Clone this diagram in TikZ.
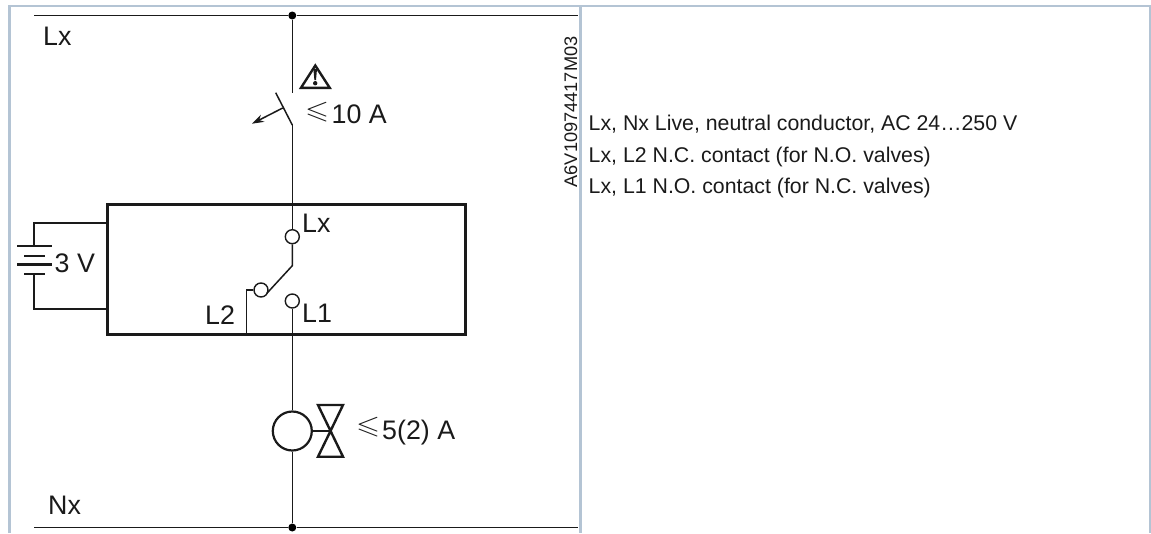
\documentclass[tikz,border=0pt]{standalone}
\usepackage{amssymb}
\usepackage{graphicx}
\usepackage{fontspec}
\setmainfont{Liberation Sans}
\usetikzlibrary{arrows.meta}
\definecolor{frameblue}{HTML}{B4C4D4}
\definecolor{inkc}{HTML}{1A1A1A}
\tikzset{
  frameline/.style={frameblue,line width=2.2pt},
  wire/.style={inkc,line width=1.5pt},
  thickbox/.style={inkc,line width=3pt},
  thickwire/.style={inkc,line width=2.4pt},
  contact/.style={circle,draw=inkc,line width=1.4pt,fill=white,minimum size=14pt,inner sep=0pt},
  junction/.style={circle,fill=black,minimum size=8pt,inner sep=0pt},
  bigtxt/.style={inner sep=0pt,text=inkc,font=\fontsize{26.8}{28}\selectfont,anchor=base west},
  smalltxt/.style={inner sep=0pt,text=inkc,font=\fontsize{21.3}{23}\selectfont,anchor=base west},
  codetxt/.style={inner sep=0pt,text=inkc,font=\fontsize{18.2}{20}\selectfont,anchor=base west},
}
\newcommand{\lessq}{\scalebox{1.15}[0.95]{$\leqslant$}}
\begin{document}
\begin{tikzpicture}[x=1pt,y=-1pt]
\useasboundingbox (0,0) rectangle (1151,533);
% frame
\draw[frameline] (9.5,533) -- (9.5,6) -- (1150,6) -- (1150,533);
\draw[frameline] (580.5,6) -- (580.5,533);
% bus lines
\coordinate (busTL) at (34,15.5);
\coordinate (busTR) at (578,15.5);
\coordinate (busBL) at (34,527.5);
\coordinate (busBR) at (578,527.5);
\node[junction] (jt) at (292.3,15.5) {};
\node[junction] (jb) at (292.3,527.5) {};
\draw[wire] (busTL) -- (jt) -- (busTR);
\draw[wire] (busBL) -- (jb) -- (busBR);
% switch
\coordinate (swTop) at (292.3,92.7);
\coordinate (bladeTop) at (275.7,92.7);
\coordinate (bladeBot) at (292.3,125);
\coordinate (bladeMid) at (282.7,108);
\coordinate (arrEnd) at (252,123.7);
\draw[wire] (jt) -- (swTop);
\draw[wire] (bladeTop) -- (bladeBot);
\draw[wire,-{Stealth[length=12pt,width=8pt]}] (bladeMid) -- (arrEnd);
% warning
\draw[inkc,line width=2.4pt,line join=miter] (315.3,65.5) -- (329.7,87.8) -- (301,87.8) -- cycle;
\fill[inkc] (313.4,69) -- (317,69) -- (316,80) -- (314.4,80) -- cycle;
\fill[inkc] (315.2,83.2) circle (2.2pt);
% box
\coordinate (boxNW) at (107.7,204.7);
\coordinate (boxSE) at (465,334.7);
% contacts
\node[contact] (cLx) at (292.3,236.7) {};
\node[contact] (cL2) at (261,290) {};
\node[contact] (cL1) at (292.3,301) {};
\coordinate (pivot) at (292.3,265.7);
\coordinate (bladeEnd) at (266.7,293.5);
\coordinate (l2corner) at (246.7,290);
\coordinate (l2foot) at (246.7,334.7);
\draw[wire] (bladeBot) -- (cLx);
\draw[wire] (cLx) -- (pivot) -- (bladeEnd);
\draw[wire] (cL2) -- (l2corner) -- (l2foot);
% motor valve
\node[circle,draw=inkc,line width=2.2pt,minimum size=39pt,inner sep=0pt] (motor) at (292.3,431) {};
\draw[wire] (cL1) -- (motor);
\draw[wire] (motor) -- (jb);
\draw[thickbox] (boxNW) rectangle (boxSE);
\coordinate (vc) at (330.5,431);
\draw[thickwire] (motor) -- (vc);
\draw[thickwire,line join=miter] (vc) -- (343,405) -- (318,405) -- (343,456.7) -- (318,456.7) -- (vc);
% battery
\coordinate (batA) at (107.7,223);
\coordinate (batB) at (34,223);
\coordinate (batC) at (34,246);
\coordinate (batD) at (34,274);
\coordinate (batE) at (34,309);
\coordinate (batF) at (107.7,309);
\draw[wire] (batA) -- (batB) -- (batC);
\draw[wire] (batD) -- (batE) -- (batF);
\draw[thickwire] (17,246) -- (52,246);
\draw[thickwire] (24,255.7) -- (45,255.7);
\draw[thickwire] (17,264.5) -- (52,264.5);
\draw[thickwire] (24,274) -- (45,274);
% labels
\node[bigtxt] (tLxTop) at (43,45) {Lx};
\node[bigtxt] (tNx) at (48,514) {Nx};
\node[bigtxt] (tLe) at (305,118) {\lessq};
\node[bigtxt] (tTen) at (331.5,123) {10 A};
\node[bigtxt] (tThree) at (54.5,272) {3 V};
\node[bigtxt] (tLx) at (302,232) {Lx};
\node[bigtxt] (tL2) at (205,324) {L2};
\node[bigtxt] (tL1) at (302,322.5) {L1};
\node[bigtxt] (tLeb) at (356,433) {\lessq};
\node[bigtxt] (tFive) at (382,439) {5(2) A};
\node[codetxt,rotate=90] (tCode) at (577,187.5) {A6V10974417M03};
\node[smalltxt] (t1) at (588.5,130) {Lx, Nx Live, neutral conductor, AC 24…250 V};
\node[smalltxt] (t2) at (588.5,162) {Lx, L2 N.C. contact (for N.O. valves)};
\node[smalltxt] (t3) at (588.5,193.5) {Lx, L1 N.O. contact (for N.C. valves)};
\end{tikzpicture}
\end{document}
